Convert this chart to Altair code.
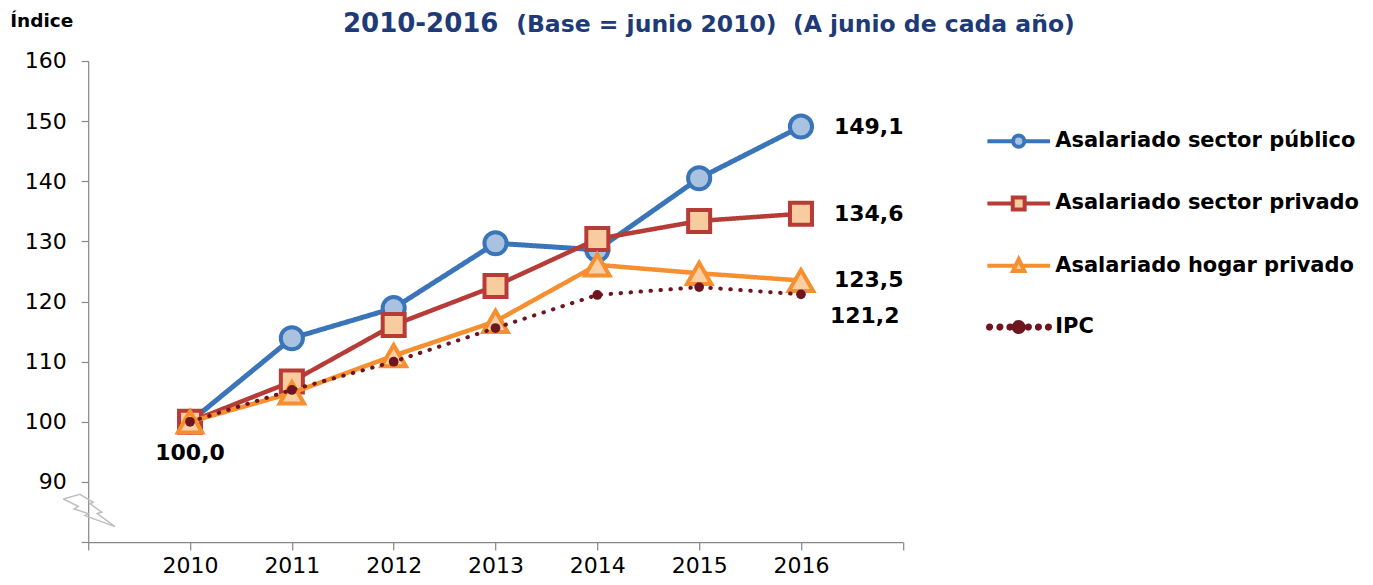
import altair as alt
import pandas as pd

# ---------------- data ----------------
years = [2010, 2011, 2012, 2013, 2014, 2015, 2016]
series = ["Asalariado sector público", "Asalariado sector privado",
          "Asalariado hogar privado", "IPC"]
publico = [100.0, 113.9, 118.9, 129.7, 128.6, 140.5, 149.1]
privado = [100.0, 106.7, 116.1, 122.6, 130.4, 133.4, 134.6]
hogar = [100.0, 104.8, 111.0, 116.7, 126.1, 124.7, 123.5]
ipc = [100.0, 105.3, 110.0, 115.6, 121.1, 122.4, 121.2]
y_ticks = [80, 90, 100, 110, 120, 130, 140, 150, 160]
x_ticks = [2009, 2010, 2011, 2012, 2013, 2014, 2015, 2016, 2017]
title_main = "2010-2016"
title_sub = "(Base = junio 2010)\u00a0\u00a0(A junio de cada año)"
y_title = "Índice"
# axis-break zigzag (in axis units)
bolt_x = [2008.755, 2008.919, 2009.050, 2009.018, 2009.133, 2009.089, 2009.263,
          2008.969, 2009.001, 2008.861, 2008.903, 2008.755]
bolt_y = [87.17, 87.95, 86.62, 86.39, 84.96, 84.73, 82.57,
          84.40, 84.73, 85.51, 85.96, 87.17]

# ---------------- styles ----------------
FONT = "DejaVu Sans"
line_colors = ["#3A75B9", "#B73B37", "#F58F30", "#6E1520"]
fill_colors = ["#A8C2DF", "#F9CC9F", "#F9CFA3", "#6E1520"]
line_widths = [5, 4.5, 4.5, 4]
line_dashes = [[1, 0], [1, 0], [1, 0], [0.5, 9.5]]
shapes = ["circle", "square", "triangle-up", "circle"]
sizes = [490, 484, 600, 95]
point_sw = [4, 4, 4, 0]
leg_stroke_widths = [4, 4, 4, 1]


def _circ(cx, r):
    return f"M{cx + r:.3f},0A{r},{r} 0 1 1 {cx - r:.3f},0A{r},{r} 0 1 1 {cx + r:.3f},0Z"


# legend symbols: line + marker, drawn in a [-1,1] box
leg_paths = [
    "M-1,0L-0.18,0M0.18,0L1,0" + _circ(0, 0.18),
    "M-1,0L-0.19,0M0.19,0L1,0M-0.19,-0.19L0.19,-0.19L0.19,0.19L-0.19,0.19Z",
    "M-1,0L-0.09,0M0.09,0L1,0M0,-0.21L0.18,0.17L-0.18,0.17Z",
    "".join(_circ(c, 0.05) for c in [-0.93, -0.6, -0.28, 0.31, 0.63, 0.95]) + _circ(0, 0.16),
]

rows = []
for s, vals in zip(series, [publico, privado, hogar, ipc]):
    for yr, v in zip(years, vals):
        rows.append({"serie": s, "year": yr, "value": v,
                     "label": f"{v:.1f}".replace(".", ",")})
df = pd.DataFrame(rows)

X = alt.X("year:Q",
          scale=alt.Scale(domain=[x_ticks[0], x_ticks[-1]], nice=False, zero=False),
          axis=alt.Axis(values=x_ticks, format="d", title=None, grid=False,
                        labelExpr="(datum.value >= 2010 && datum.value <= 2016) ? datum.label : ''",
                        labelFont=FONT, labelFontSize=22, labelColor="#000000",
                        labelFlush=False, labelOverlap=False, labelPadding=5,
                        tickSize=8, tickColor="#868686", domainColor="#868686",
                        tickWidth=1.2, domainWidth=1.2))
Y = alt.Y("value:Q",
          scale=alt.Scale(domain=[y_ticks[0], y_ticks[-1]], nice=False, zero=False),
          axis=alt.Axis(values=y_ticks, title=None, grid=False,
                        labelExpr="datum.value > 80 ? datum.label : ''",
                        labelFont=FONT, labelFontSize=22, labelColor="#000000",
                        labelFlush=False, labelOverlap=False, labelPadding=15,
                        tickSize=7, tickColor="#868686", domainColor="#868686",
                        tickWidth=1.2, domainWidth=1.2))

base = alt.Chart(df)
layers = []

# axis-break symbol
bolt_df = pd.DataFrame({"year": bolt_x, "value": bolt_y, "o": list(range(len(bolt_x)))})
layers.append(alt.Chart(bolt_df).mark_line(color="#BFBFBF", strokeWidth=1.5)
              .encode(x=X, y=Y, order="o:Q"))

for i, s in enumerate(series):
    sub = base.transform_filter(alt.datum.serie == s)
    layers.append(sub.mark_line(color=line_colors[i], strokeWidth=line_widths[i],
                                strokeDash=line_dashes[i], strokeCap="round")
                  .encode(x=X, y=Y))
    layers.append(sub.mark_point(shape=shapes[i], size=sizes[i], filled=False,
                                 fill=fill_colors[i], stroke=line_colors[i],
                                 strokeWidth=point_sw[i], opacity=1,
                                 fillOpacity=1, strokeOpacity=1)
                  .encode(x=X, y=Y))

# value labels
lab_font = dict(font=FONT, fontSize=22, fontWeight="bold", color="#000000")
last = base.transform_filter(alt.datum.year == years[-1])
layers.append(last.transform_filter(alt.datum.serie != series[3])
              .mark_text(align="left", baseline="middle", dx=33, **lab_font)
              .encode(x=X, y=Y, text="label:N"))
layers.append(last.transform_filter(alt.datum.serie == series[3])
              .mark_text(align="left", baseline="middle", dx=29, dy=22, **lab_font)
              .encode(x=X, y=Y, text="label:N"))
layers.append(base.transform_filter((alt.datum.year == years[0]) & (alt.datum.serie == series[0]))
              .mark_text(align="center", baseline="middle", dy=31, **lab_font)
              .encode(x=X, y=Y, text="label:N"))

# legend (from a hidden layer)
leg = alt.Legend(title=None, orient="none", legendX=897, legendY=46.7,
                 labelFont=FONT, labelFontSize=21, labelFontWeight="bold",
                 labelColor="#000000", labelLimit=500, labelOffset=3,
                 symbolSize=3920, symbolOpacity=1,
                 rowPadding=14.3, padding=0)
legend_layer = (alt.Chart(pd.DataFrame({"serie": series}))
                .transform_filter("false")
                .mark_point(size=3920, opacity=1, fillOpacity=1)
                .encode(shape=alt.Shape("serie:N", scale=alt.Scale(domain=series, range=leg_paths), legend=leg),
                        stroke=alt.Stroke("serie:N", scale=alt.Scale(domain=series, range=line_colors), legend=leg),
                        fill=alt.Fill("serie:N", scale=alt.Scale(domain=series, range=fill_colors), legend=leg),
                        strokeWidth=alt.StrokeWidth("serie:N", scale=alt.Scale(domain=series, range=leg_stroke_widths), legend=leg)))
layers.append(legend_layer)

# header texts
hdr = pd.DataFrame({"t": [title_main], "s": [title_sub], "y": [y_title]})
layers.append(alt.Chart(hdr).mark_text(align="left", baseline="alphabetic", font=FONT,
                                       fontSize=26, fontWeight="bold", color="#203A78")
              .encode(text="t:N", x=alt.value(254.8), y=alt.value(-28.5)))
layers.append(alt.Chart(hdr).mark_text(align="left", baseline="alphabetic", font=FONT,
                                       fontSize=23.5, fontWeight="bold", color="#203A78")
              .encode(text="s:N", x=alt.value(428), y=alt.value(-28.5)))
layers.append(alt.Chart(hdr).mark_text(align="left", baseline="alphabetic", font=FONT,
                                       fontSize=18.5, fontWeight="bold", color="#000000")
              .encode(text="y:N", x=alt.value(-78), y=alt.value(-34)))

chart = (alt.layer(*layers)
         .properties(width=814.6, height=481.1, background="white",
                     view=alt.ViewBackground(stroke="transparent", strokeWidth=0),
                     autosize=alt.AutoSizeParams(type="none"),
                     padding={"left": 80.2, "top": 53, "right": 460, "bottom": 35})
         .configure(style={"cell": {"stroke": "transparent", "strokeWidth": 0}},
                    view=alt.ViewConfig(stroke="transparent", strokeWidth=0)))

chart.save("out.html", embed_options={"renderer": "svg", "actions": False})
